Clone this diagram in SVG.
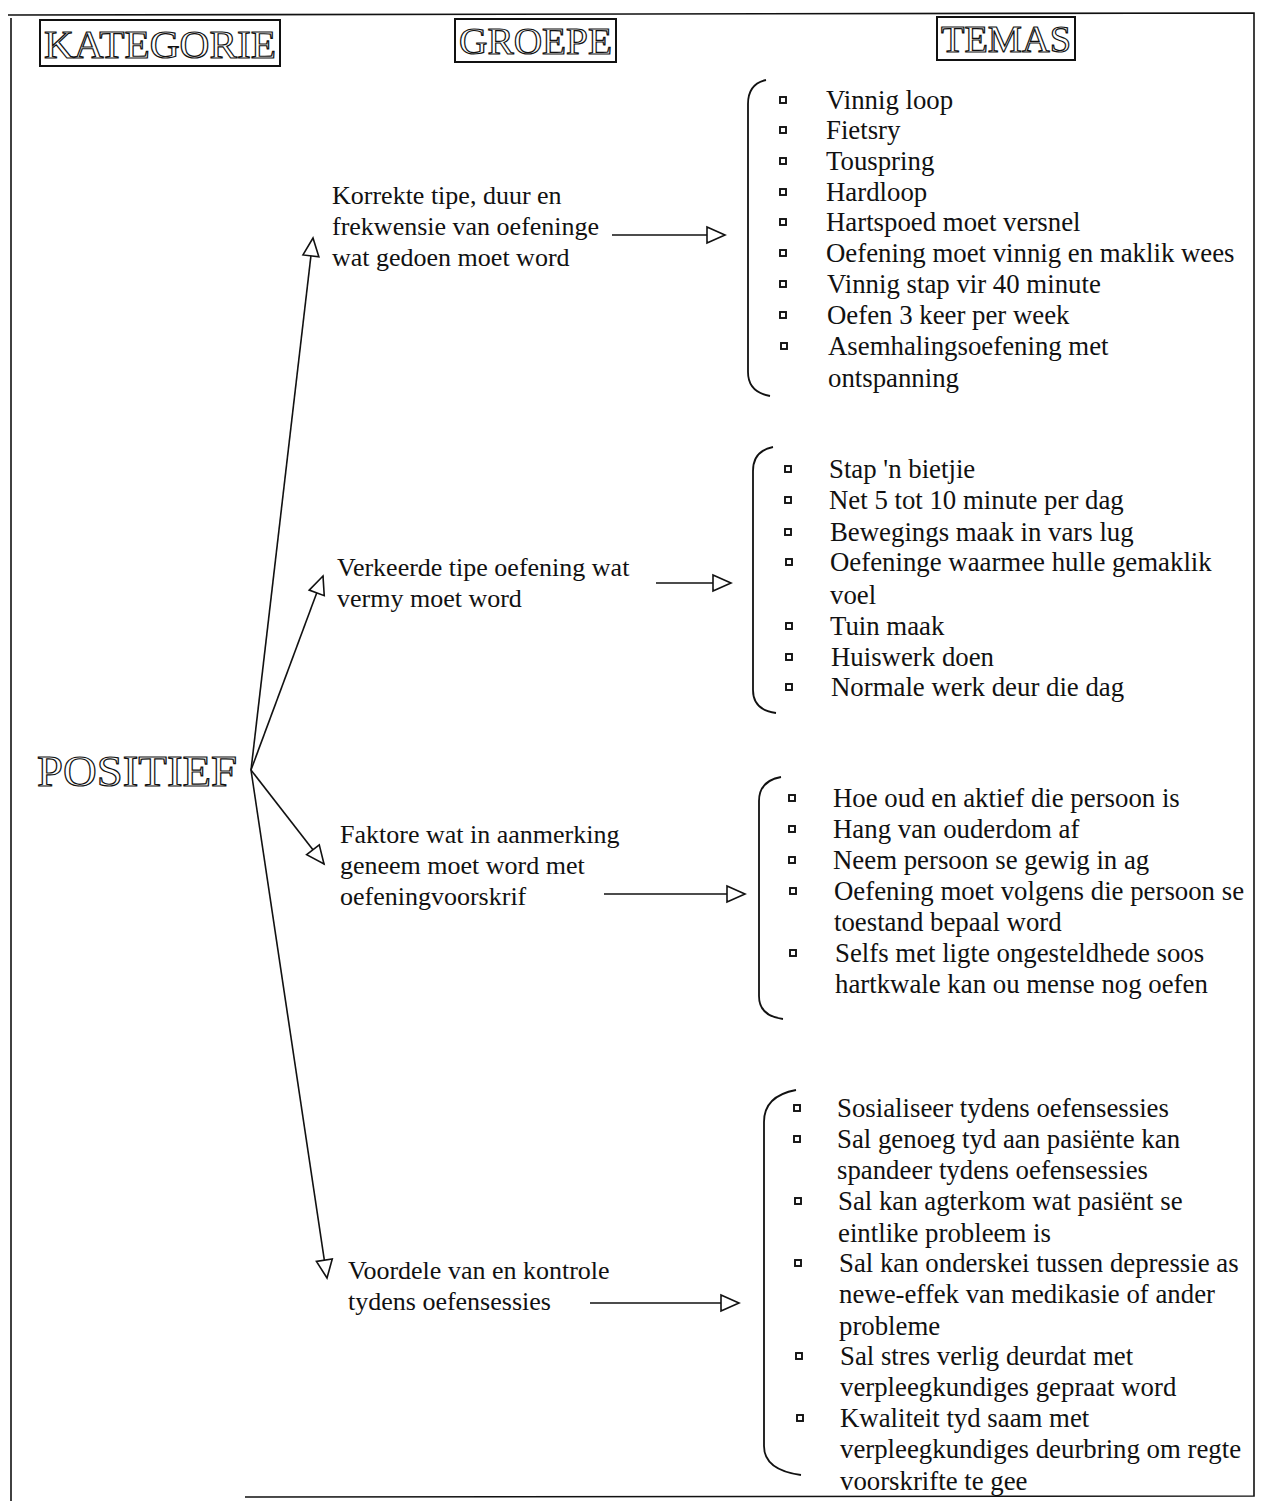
<svg xmlns="http://www.w3.org/2000/svg" width="1269" height="1501" viewBox="0 0 1269 1501">
<style>
.t{font-family:"Liberation Serif","Times New Roman",serif;font-size:26.8px;fill:#111}
.g{font-size:26px}
.h{font-family:"Liberation Serif","Times New Roman",serif;fill:#fff;stroke:#111;stroke-width:1.2}
.box{fill:none;stroke:#111;stroke-width:2}
.ln{fill:none;stroke:#111;stroke-width:1.6}
.br{fill:none;stroke:#111;stroke-width:1.8}
.b{fill:#fff;stroke:#111;stroke-width:1.9}
</style>
<defs>
<marker id="ah" markerUnits="userSpaceOnUse" markerWidth="22" markerHeight="20" refX="19" refY="9" orient="auto" overflow="visible">
<path d="M1,1 L19,9 L1,17 Z" fill="#fff" stroke="#111" stroke-width="1.6"/>
</marker>
</defs>
<rect width="1269" height="1501" fill="#fff"/>
<g id="frame" class="ln">
<path d="M8,15 L1254,13 L1254,1496 L245,1497"/>
<path d="M11,18 L11,1501"/>
</g>
<g id="headers">
<rect class="box" x="40" y="20" width="240" height="46"/>
<text class="h" x="44" y="58" font-size="40" textLength="232" lengthAdjust="spacingAndGlyphs">KATEGORIE</text>
<rect class="box" x="455" y="19" width="161" height="43"/>
<text class="h" x="459" y="54" font-size="38" textLength="153" lengthAdjust="spacingAndGlyphs">GROEPE</text>
<rect class="box" x="937" y="17" width="138" height="43"/>
<text class="h" x="941" y="52" font-size="38" textLength="130" lengthAdjust="spacingAndGlyphs">TEMAS</text>
</g>
<g id="positief">
<text class="h" x="37" y="786" font-size="44" stroke-width="1.3" textLength="200" lengthAdjust="spacingAndGlyphs">POSITIEF</text>
</g>
<g id="connectors" class="ln">
<path d="M251,770 L313,238" marker-end="url(#ah)"/>
<path d="M251,770 L323,576" marker-end="url(#ah)"/>
<path d="M251,770 L324,864" marker-end="url(#ah)"/>
<path d="M251,770 L327,1278" marker-end="url(#ah)"/>
<path d="M612,235 L725,235" marker-end="url(#ah)"/>
<path d="M656,583 L731,583" marker-end="url(#ah)"/>
<path d="M604,894 L745,894" marker-end="url(#ah)"/>
<path d="M590,1303 L739,1303" marker-end="url(#ah)"/>
</g>
<g id="groep1">
<text class="t g" x="332" y="204">Korrekte tipe, duur en</text>
<text class="t g" x="332" y="235">frekwensie van oefeninge</text>
<text class="t g" x="332" y="266">wat gedoen moet word</text>
</g>
<g id="groep2">
<text class="t g" x="337" y="576">Verkeerde tipe oefening wat</text>
<text class="t g" x="337" y="607">vermy moet word</text>
</g>
<g id="groep3">
<text class="t g" x="340" y="843">Faktore wat in aanmerking</text>
<text class="t g" x="340" y="874">geneem moet word met</text>
<text class="t g" x="340" y="905">oefeningvoorskrif</text>
</g>
<g id="groep4">
<text class="t g" x="348" y="1279">Voordele van en kontrole</text>
<text class="t g" x="348" y="1310">tydens oefensessies</text>
</g>
<g id="temas1">
<path class="br" d="M766,80 Q748,84 748,104 L748,372 Q748,392 770,396"/>
<g>
<rect class="b" x="780" y="97" width="6" height="6"/>
<rect class="b" x="780" y="127" width="6" height="6"/>
<rect class="b" x="780" y="158" width="6" height="6"/>
<rect class="b" x="780" y="189" width="6" height="6"/>
<rect class="b" x="780" y="219" width="6" height="6"/>
<rect class="b" x="780" y="250" width="6" height="6"/>
<rect class="b" x="780" y="281" width="6" height="6"/>
<rect class="b" x="780" y="312" width="6" height="6"/>
<rect class="b" x="781" y="343" width="6" height="6"/>
</g>
<text class="t" x="826" y="109">Vinnig loop</text>
<text class="t" x="826" y="139">Fietsry</text>
<text class="t" x="826" y="170">Touspring</text>
<text class="t" x="826" y="201">Hardloop</text>
<text class="t" x="826" y="231">Hartspoed moet versnel</text>
<text class="t" x="826" y="262">Oefening moet vinnig en maklik wees</text>
<text class="t" x="827" y="293">Vinnig stap vir 40 minute</text>
<text class="t" x="827" y="324">Oefen 3 keer per week</text>
<text class="t" x="828" y="355">Asemhalingsoefening met</text>
<text class="t" x="828" y="387">ontspanning</text>
</g>
<g id="temas2">
<path class="br" d="M773,447 Q753,451 753,471 L753,690 Q753,710 776,713"/>
<g>
<rect class="b" x="785" y="466" width="6" height="6"/>
<rect class="b" x="785" y="497" width="6" height="6"/>
<rect class="b" x="785" y="529" width="6" height="6"/>
<rect class="b" x="786" y="559" width="6" height="6"/>
<rect class="b" x="786" y="623" width="6" height="6"/>
<rect class="b" x="786" y="654" width="6" height="6"/>
<rect class="b" x="786" y="684" width="6" height="6"/>
</g>
<text class="t" x="829" y="478">Stap 'n bietjie</text>
<text class="t" x="829" y="509">Net 5 tot 10 minute per dag</text>
<text class="t" x="830" y="541">Bewegings maak in vars lug</text>
<text class="t" x="830" y="571">Oefeninge waarmee hulle gemaklik</text>
<text class="t" x="830" y="604">voel</text>
<text class="t" x="830" y="635">Tuin maak</text>
<text class="t" x="831" y="666">Huiswerk doen</text>
<text class="t" x="831" y="696">Normale werk deur die dag</text>
</g>
<g id="temas3">
<path class="br" d="M781,777 Q759,781 759,801 L759,996 Q759,1016 783,1019"/>
<g>
<rect class="b" x="789" y="795" width="6" height="6"/>
<rect class="b" x="789" y="826" width="6" height="6"/>
<rect class="b" x="789" y="857" width="6" height="6"/>
<rect class="b" x="790" y="888" width="6" height="6"/>
<rect class="b" x="790" y="950" width="6" height="6"/>
</g>
<text class="t" x="833" y="807">Hoe oud en aktief die persoon is</text>
<text class="t" x="833" y="838">Hang van ouderdom af</text>
<text class="t" x="833" y="869">Neem persoon se gewig in ag</text>
<text class="t" x="834" y="900">Oefening moet volgens die persoon se</text>
<text class="t" x="834" y="931">toestand bepaal word</text>
<text class="t" x="835" y="962">Selfs met ligte ongesteldhede soos</text>
<text class="t" x="835" y="993">hartkwale kan ou mense nog oefen</text>
</g>
<g id="temas4">
<path class="br" d="M796,1090 Q764,1096 764,1122 L764,1446 Q764,1470 801,1475"/>
<g>
<rect class="b" x="794" y="1105" width="6" height="6"/>
<rect class="b" x="794" y="1136" width="6" height="6"/>
<rect class="b" x="795" y="1198" width="6" height="6"/>
<rect class="b" x="795" y="1260" width="6" height="6"/>
<rect class="b" x="796" y="1353" width="6" height="6"/>
<rect class="b" x="797" y="1415" width="6" height="6"/>
</g>
<text class="t" x="837" y="1117">Sosialiseer tydens oefensessies</text>
<text class="t" x="837" y="1148">Sal genoeg tyd aan pasiënte kan</text>
<text class="t" x="837" y="1179">spandeer tydens oefensessies</text>
<text class="t" x="838" y="1210">Sal kan agterkom wat pasiënt se</text>
<text class="t" x="838" y="1242">eintlike probleem is</text>
<text class="t" x="839" y="1272">Sal kan onderskei tussen depressie as</text>
<text class="t" x="839" y="1303">newe-effek van medikasie of ander</text>
<text class="t" x="839" y="1335">probleme</text>
<text class="t" x="840" y="1365">Sal stres verlig deurdat met</text>
<text class="t" x="840" y="1396">verpleegkundiges gepraat word</text>
<text class="t" x="840" y="1427">Kwaliteit tyd saam met</text>
<text class="t" x="840" y="1458">verpleegkundiges deurbring om regte</text>
<text class="t" x="840" y="1490">voorskrifte te gee</text>
</g>
</svg>
